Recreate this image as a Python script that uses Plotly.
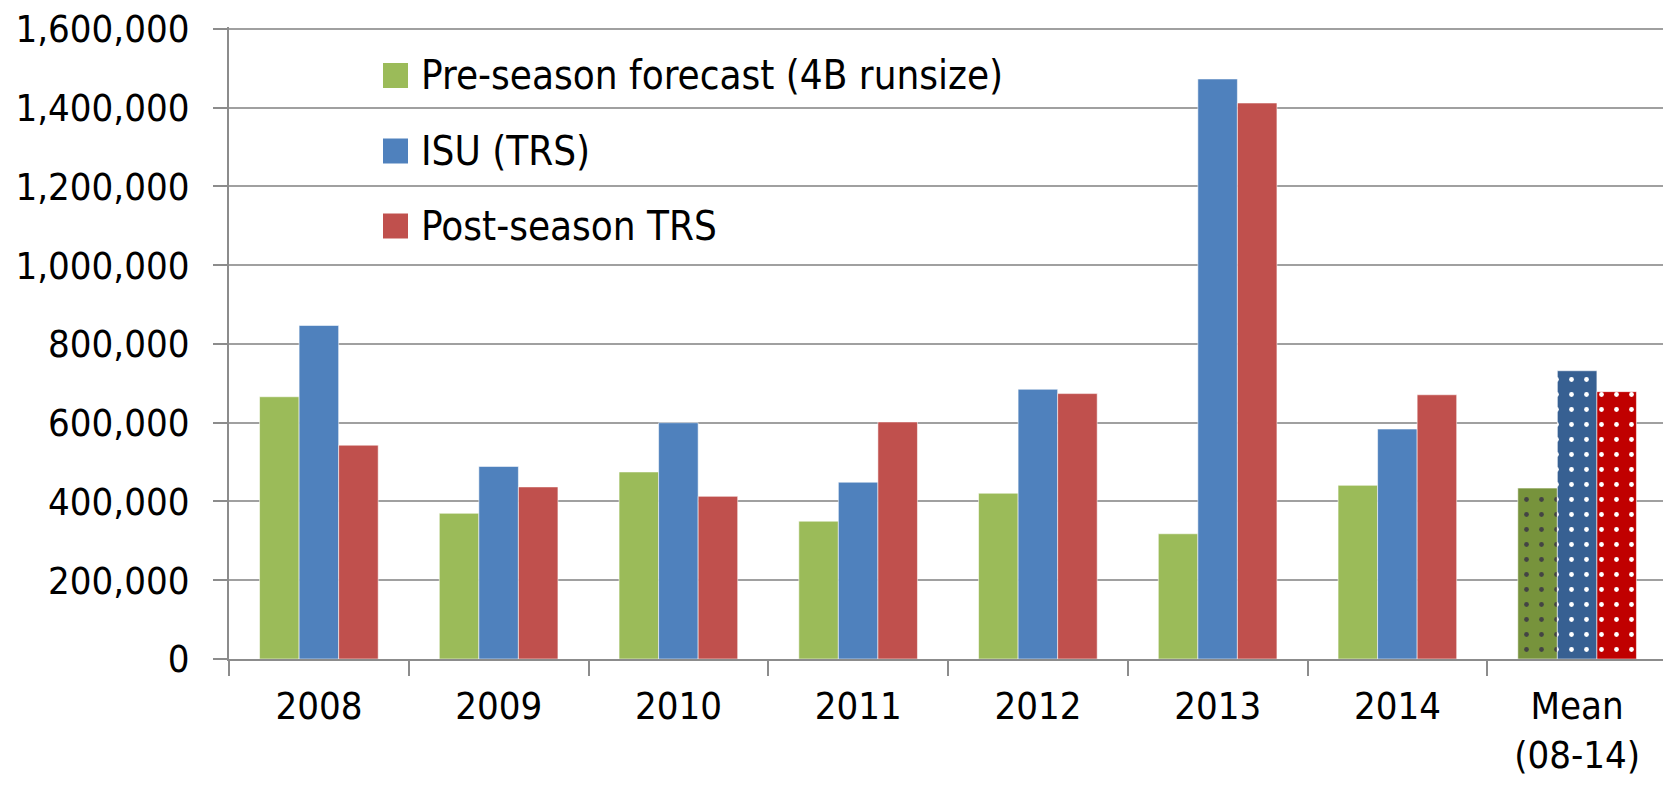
import plotly.graph_objects as go

categories = ["2008", "2009", "2010", "2011", "2012", "2013", "2014", "Mean<br>(08-14)"]
series_names = ["Pre-season forecast (4B runsize)", "ISU (TRS)", "Post-season TRS"]
pre_season = [666000, 370000, 475000, 350000, 421000, 318000, 441000, 434000]
isu_trs = [847000, 489000, 600000, 449000, 685000, 1473000, 584000, 732000]
post_season = [543000, 437000, 413000, 602000, 674000, 1412000, 671000, 679000]
y_ticks = [0, 200000, 400000, 600000, 800000, 1000000, 1200000, 1400000, 1600000]

base_colors = ["#9BBB59", "#4F81BD", "#C0504D"]
mean_colors = ["#77933C", "#376092", "#C00000"]

FONT = "DejaVu Sans Condensed, Liberation Sans Narrow, sans-serif"
# page body has an 8px default margin; size the figure so it fills the window
OFF = 8
W, H = 1671 - OFF, 796 - OFF
ML, MR, MT = 229 - OFF, 4, 27 - OFF
PLOT_H = 632
MB = H - MT - PLOT_H

fig = go.Figure()
for name, vals, c, mc in zip(series_names, [pre_season, isu_trs, post_season], base_colors, mean_colors):
    n = len(vals)
    colors = [c] * (n - 1) + [mc]
    shapes = [""] * (n - 1) + ["."]
    fig.add_trace(go.Bar(
        x=categories, y=vals, name=name, showlegend=False,
        marker=dict(
            color=colors,
            line=dict(color="rgba(255,255,255,0.55)", width=1),
            pattern=dict(shape=shapes, fgcolor="white", fgopacity=1, size=15,
                         solidity=0.08, fillmode="overlay"),
        ),
    ))

# custom legend (square swatches + text), positioned in paper coordinates
pw = W - ML - MR
ph = H - MT - MB
def px_to_paper_x(px):
    return (px - OFF - ML) / pw
def px_to_paper_y(py):
    return (H - MB - (py - OFF)) / ph

legend_rows_y = [75.5, 151, 226]
for name, c, yy in zip(series_names, base_colors, legend_rows_y):
    fig.add_shape(type="rect", xref="paper", yref="paper",
                  x0=px_to_paper_x(383), x1=px_to_paper_x(408),
                  y0=px_to_paper_y(yy + 12.5), y1=px_to_paper_y(yy - 12.5),
                  fillcolor=c, line=dict(width=0))
    fig.add_annotation(xref="paper", yref="paper", x=px_to_paper_x(419), y=px_to_paper_y(yy),
                       text=name, showarrow=False, xanchor="left", yanchor="middle",
                       font=dict(family=FONT, size=40, color="black"))

fig.update_layout(
    width=W, height=H,
    margin=dict(l=ML, r=MR, t=MT, b=MB, autoexpand=False),
    paper_bgcolor="white", plot_bgcolor="white",
    barmode="group", bargap=0.34, bargroupgap=0,
    font=dict(family=FONT, size=40, color="black"),
)
fig.update_xaxes(
    type="category", tickson="boundaries", ticks="outside", ticklen=15, tickwidth=2,
    tickcolor="#8C8C8C", showline=True, linecolor="#8C8C8C", linewidth=2,
    showgrid=False, automargin=False, ticklabelstandoff=12,
    tickfont=dict(family=FONT, size=38, color="black"),
)
fig.update_yaxes(
    range=[0, 1605000], tickvals=y_ticks, tickformat=",d", ticks="outside", ticklen=14,
    tickwidth=2, tickcolor="#8C8C8C", showline=True, linecolor="#8C8C8C", linewidth=2,
    showgrid=True, gridcolor="#A0A0A0", gridwidth=2, zeroline=False, automargin=False,
    ticklabelstandoff=16, ticklabeloverflow="allow",
    tickfont=dict(family=FONT, size=38, color="black"),
)

fig.write_html("out.html")
